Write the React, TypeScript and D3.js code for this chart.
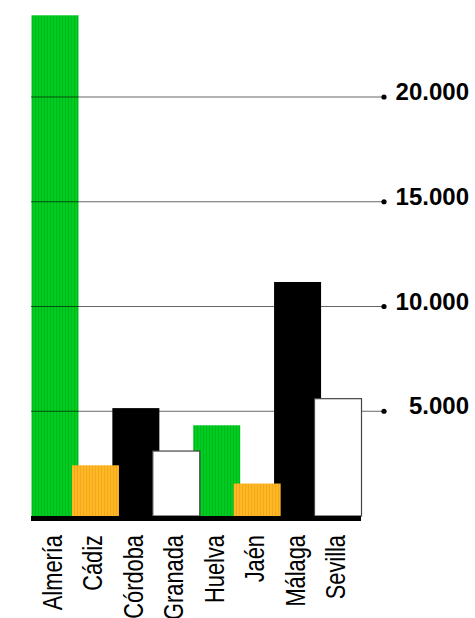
import React from "react";
import * as d3 from "d3";

const categories = ["Almería", "Cádiz", "Córdoba", "Granada", "Huelva", "Jaén", "Málaga", "Sevilla"];
const values = [23900, 2420, 5150, 3100, 4330, 1550, 11170, 5600];
const fills = ["url(#green)", "url(#orange)", "#000", "#fff", "url(#green)", "url(#orange)", "#000", "#fff"];
const tickValues = [5000, 10000, 15000, 20000];
const tickLabels = ["5.000", "10.000", "15.000", "20.000"];

const W = 475;
const H = 618;

export default function App() {
  const x = d3.scalePoint<string>().domain(categories).range([55, 338]);
  const y = d3.scaleLinear().domain([0, 20000]).range([516, 97]);
  const bw = 47;

  const bar = (i: number) => {
    const c = categories[i];
    const f = fills[i];
    const isWhite = f === "#fff";
    return (
      <rect
        key={c}
        x={(x(c) as number) - bw / 2}
        y={y(values[i])}
        width={bw}
        height={y(0) - y(values[i])}
        fill={f}
        stroke={isWhite ? "#444" : "none"}
        strokeWidth={isWhite ? 1.2 : 0}
      />
    );
  };

  const backOrder = [2, 4, 6];
  const frontOrder = [1, 3, 5, 7];

  return (
    <svg
      width={W}
      height={H}
      style={{ position: "absolute", left: 0, top: 0, background: "#fff" }}
    >
      <defs>
        <pattern id="green" width={3} height={10} patternUnits="userSpaceOnUse">
          <rect width={3} height={10} fill="#00CC22" />
          <rect x={2} width={1} height={10} fill="#00B81C" />
        </pattern>
        <pattern id="orange" width={3} height={10} patternUnits="userSpaceOnUse">
          <rect width={3} height={10} fill="#FFB820" />
          <rect x={2} width={1} height={10} fill="#F2A626" />
        </pattern>
      </defs>
      {bar(0)}
      <g>
        {tickValues.map((t, i) => (
          <g key={t}>
            <line x1={31} x2={384} y1={y(t)} y2={y(t)} stroke="#000" strokeOpacity={0.6} strokeWidth={1} />
            <circle cx={384} cy={y(t)} r={2.6} fill="#000" />
            <text
              x={469}
              y={y(t) + 3}
              textAnchor="end"
              fontFamily="Liberation Sans, Arial, sans-serif"
              fontWeight="bold"
              fontSize={24}
              fill="#000"
            >
              {tickLabels[i]}
            </text>
          </g>
        ))}
      </g>
      {backOrder.map((i) => bar(i))}
      {frontOrder.map((i) => bar(i))}
      <rect x={31} y={y(0)} width={330} height={5} fill="#000" />
      {categories.map((c) => (
        <text
          key={c}
          transform={`translate(${(x(c) as number) + 7},535) rotate(-90) scale(0.78,1)`}
          textAnchor="end"
          fontFamily="'Liberation Sans', Arial, sans-serif"
          fontSize={28}
          fill="#000"
        >
          {c}
        </text>
      ))}
    </svg>
  );
}
